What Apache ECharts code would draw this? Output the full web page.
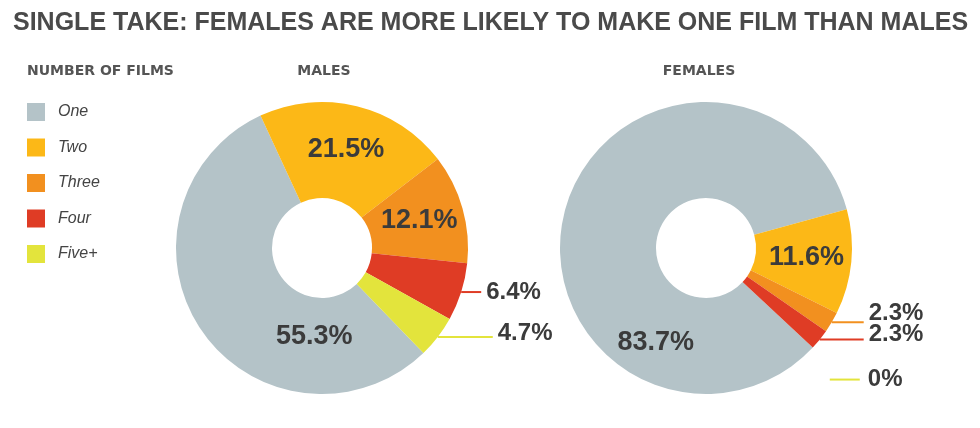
<!DOCTYPE html>
<html>
<head>
<meta charset="utf-8">
<script src="https://cdn.jsdelivr.net/npm/echarts@6/dist/echarts.min.js"></script>
<style>
  html, body { margin: 0; padding: 0; background: #fff; }
  #chart { width: 980px; height: 428px; }
</style>
</head>
<body>
<div id="chart"></div>
<script>
// data
const categories = ['One', 'Two', 'Three', 'Four', 'Five+']
const malesShare = [55.3, 21.5, 12.1, 6.4, 4.7]
const femalesShare = [83.7, 11.6, 2.3, 2.3, 0]

const colors = ['#b4c3c8', '#fcb817', '#f2901f', '#df3c25', '#e3e43c']
const darkText = '#3b3b3b'
const numFont = '"Liberation Sans", Arial, sans-serif'

// outside label line lengths and vertical nudges, per slice
const malesLine = [0, 0, 0, 20, 55]
const malesDy = [0, 0, 0, 0, -4]
const femalesLine = [0, 0, 32, 44, 50]
const femalesDy = [0, 0, -9, -5, 32]

function polar(cx, cy, r, deg) {
  const a = deg * Math.PI / 180
  return [cx + r * Math.sin(a), cy - r * Math.cos(a)]
}

function buildData(values, lineLen) {
  return values.map((v, i) => {
    const inside = v >= 10
    return {
      name: categories[i],
      value: v,
      itemStyle: { color: colors[i] },
      label: inside
        ? { position: 'inside', fontSize: 27, fontWeight: 'bold', fontFamily: numFont, color: darkText }
        : { position: 'outside', fontSize: 24, fontWeight: 'bold', fontFamily: numFont, color: darkText, lineHeight: 16 },
      labelLine: inside
        ? { show: false }
        : { show: true, length: 0, length2: lineLen[i], lineStyle: { color: colors[i], width: 2 } }
    }
  })
}

function pieSeries(name, values, lineLen, nudge, cx, startAngle, oneAngle, oneR) {
  return {
    name: name,
    type: 'pie',
    center: [cx, 248],
    radius: [50, 146],
    startAngle: startAngle,
    clockwise: true,
    avoidLabelOverlap: false,
    silent: true,
    label: { show: true, formatter: '{c}%' },
    labelLayout: function (p) {
      const i = p.dataIndex
      if (i === 0) {
        const pt = polar(cx, 248, oneR, oneAngle)
        return { x: pt[0], y: pt[1] }
      }
      if (!nudge[i]) return
      // a zero slice gets its label dropped below the others, on its own short line
      if (values[i] === 0) {
        const r = p.labelRect
        const y = r.y + r.height / 2 + nudge[i]
        return {
          dy: nudge[i],
          labelLinePoints: [[r.x - 38, y], [r.x - 23, y], [r.x - 8, y]]
        }
      }
      // otherwise lift the text a little and keep the line where it was
      return { dy: nudge[i], labelLinePoints: p.labelLinePoints }
    },
    data: buildData(values, lineLen)
  }
}

const myChart = echarts.init(document.getElementById('chart'))
const option = {
  backgroundColor: '#fff',
  animation: false,
  title: {
    text: 'SINGLE TAKE: FEMALES ARE MORE LIKELY TO MAKE ONE FILM THAN MALES',
    left: 13,
    top: 11,
    padding: 0,
    textStyle: { fontFamily: '"Liberation Sans", sans-serif', fontSize: 25, fontWeight: 'bold', color: '#4a4a4a' }
  },
  legend: {
    orient: 'vertical',
    left: 27,
    top: 103,
    padding: 0,
    icon: 'rect',
    itemWidth: 18,
    itemHeight: 18,
    itemGap: 17.5,
    selectedMode: false,
    data: categories,
    textStyle: { fontFamily: '"Liberation Sans", sans-serif', fontSize: 16, fontStyle: 'italic', color: '#444', padding: [0, 0, 0, 8] }
  },
  graphic: [
    { type: 'text', x: 27, y: 71, style: { text: 'NUMBER OF FILMS', fill: '#555', font: 'bold 14px "DejaVu Sans", sans-serif', verticalAlign: 'middle' } },
    { type: 'text', x: 324, y: 71, style: { text: 'MALES', fill: '#555', font: 'bold 14px "DejaVu Sans", sans-serif', align: 'center', verticalAlign: 'middle' } },
    { type: 'text', x: 699, y: 71, style: { text: 'FEMALES', fill: '#555', font: 'bold 14px "DejaVu Sans", sans-serif', align: 'center', verticalAlign: 'middle' } }
  ],
  series: [
    pieSeries('Males', malesShare, malesLine, malesDy, 322, -46, 185, 89),
    pieSeries('Females', femalesShare, femalesLine, femalesDy, 706, -43, 208, 107)
  ]
}
myChart.setOption(option)

window.addEventListener('resize', () => {
  myChart.resize()
})
</script>
</body>
</html>
